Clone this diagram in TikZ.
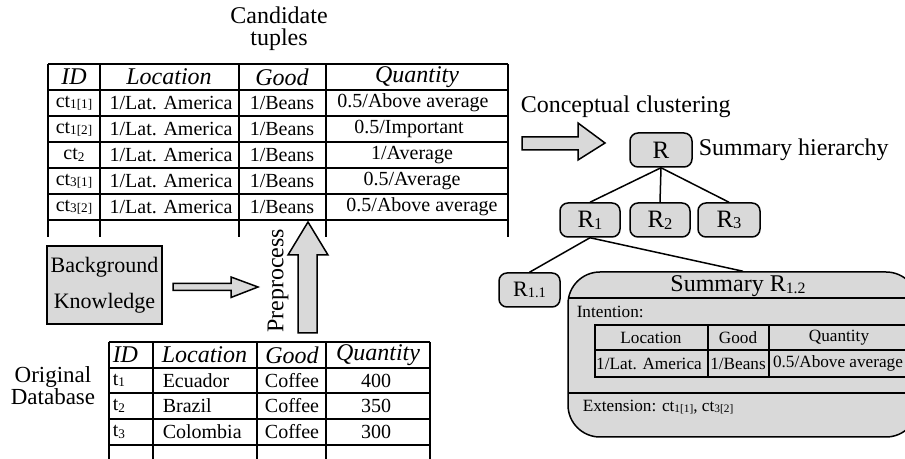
\documentclass[tikz,border=0pt]{standalone}
\usepackage{fontspec}
\setmainfont{Liberation Serif}
\usepackage{graphicx}
\usetikzlibrary{positioning}
\newcommand{\smtxt}[1]{\raisebox{-.15ex}{\scalebox{0.66}{#1}}}

\begin{document}
\begin{tikzpicture}[x=0.5pt,y=-0.5pt,line width=0.75pt,
  hd/.style={inner sep=0pt,font=\fontsize{12}{12}\selectfont\itshape},
  cell/.style={inner sep=0pt,font=\fontsize{10}{12}\selectfont},
  small/.style={inner sep=0pt,font=\fontsize{8.6}{10}\selectfont},
  lbl/.style={inner sep=0pt,align=center,font=\fontsize{12}{11}\selectfont},
  rnode/.style={draw,fill=gray!30,rounded corners=4pt,minimum height=17pt,inner sep=0pt,font=\fontsize{12.5}{12}\selectfont},
  blockarrow/.style={draw,fill=gray!30,line join=miter}]
\useasboundingbox (0,0) rectangle (905,459);

% candidate tuples
\node[lbl] (cand) at (279,29) {Candidate\\tuples};
\foreach \y in {64,90,...,220} \draw (48,\y) -- (508,\y);
\foreach \x in {48,100,239,326,508} \draw (\x,64) -- (\x,237);
\node[hd] (cid) at (74,77) {ID};
\node[hd] (cloc) at (169,77) {Location};
\node[hd] (cgood) at (282,77) {Good};
\node[hd] (cqty) at (417,77) {Quantity};
\node[cell] (ct11) at (74,103) {ct\smtxt{1[1]}};
\node[cell] (ct12) at (74,129) {ct\smtxt{1[2]}};
\node[cell] (ct2) at (74,155) {ct\smtxt{2}};
\node[cell] (ct31) at (74,181) {ct\smtxt{3[1]}};
\node[cell] (ct32) at (74,207) {ct\smtxt{3[2]}};
\foreach \y [count=\i] in {103,129,155,181,207} {
  \node[cell] (cl\i) at (171,\y) {1/Lat. America};
  \node[cell] (cg\i) at (282,\y) {1/Beans};
}
\node[cell] (cq1) at (413,103) {0.5/Above average};
\node[cell] (cq2) at (409,129) {0.5/Important};
\node[cell] (cq3) at (412,155) {1/Average};
\node[cell] (cq4) at (412,181) {0.5/Average};
\node[cell] (cq5) at (422,207) {0.5/Above average};

% original database
\node[lbl,font=\fontsize{11.5}{11}\selectfont] (orig) at (53,386) {Original\\Database};
\foreach \y in {342,368,393,419,445} \draw (109,\y) -- (430,\y);
\foreach \x in {109,153,257,326,430} \draw (\x,342) -- (\x,459);
\node[hd,anchor=west] (oid) at (112,355) {ID};
\node[hd,anchor=west] (oloc) at (161,355) {Location};
\node[hd] (ogood) at (292,355) {Good};
\node[hd] (oqty) at (378,355) {Quantity};
\node[cell,anchor=west] (t1) at (112,380.5) {t\smtxt{1}};
\node[cell,anchor=west] (t2) at (112,406) {t\smtxt{2}};
\node[cell,anchor=west] (t3) at (112,432) {t\smtxt{3}};
\node[cell,anchor=west] (l1) at (162,380.5) {Ecuador};
\node[cell,anchor=west] (l2) at (162,406) {Brazil};
\node[cell,anchor=west] (l3) at (162,432) {Colombia};
\foreach \y [count=\i] in {380.5,406,432} \node[cell] (g\i) at (292,\y) {Coffee};
\node[cell] (q1) at (376,380.5) {400};
\node[cell] (q2) at (376,406) {350};
\node[cell] (q3) at (376,432) {300};

% background knowledge and preprocessing
\node[draw,fill=gray!30,minimum width=57.5pt,minimum height=39pt,inner sep=0pt,align=center,
  font=\fontsize{11}{18}\selectfont] (bk) at (104.5,285) {Background\\Knowledge};
\draw[blockarrow] (173,283.5) -- (231,283.5) -- (231,277) -- (258,287) -- (231,297.5)
  -- (231,290.5) -- (173,290.5) -- cycle;
\draw[blockarrow] (298,333) -- (298,255) -- (288,255) -- (308,222) -- (328,255)
  -- (317,255) -- (317,333) -- cycle;
\node[lbl,rotate=90] (prep) at (278,281) {Preprocess};

% conceptual clustering
\node[lbl,anchor=west] (cc) at (520,107) {Conceptual clustering};
\draw[blockarrow] (522,137) -- (578,137) -- (578,123) -- (605,143) -- (578,160)
  -- (578,150) -- (522,150) -- cycle;

% summary hierarchy
\node[rnode,minimum width=31pt] (R) at (661,150) {R};
\node[lbl,anchor=west] (sh) at (698,150) {Summary hierarchy};
\node[rnode,minimum width=30pt] (R1) at (590,220) {R\smtxt{1}};
\node[rnode,minimum width=30pt] (R2) at (660,220) {R\smtxt{2}};
\node[rnode,minimum width=31pt] (R3) at (729,220) {R\smtxt{3}};
\node[rnode,minimum width=30.5pt,font=\fontsize{11}{12}\selectfont] (R11) at (529.5,290) {R\smtxt{1.1}};
\node[draw,fill=gray!30,rounded corners=16pt,minimum width=175pt,minimum height=82.5pt] (R12) at (743,354.5) {};
\draw (R.south) -- (R1.north);
\draw (R.south) -- (R2.north);
\draw (R.south) -- (R3.north);
\draw (R1.south) -- (R11.north);
\draw (R1.south) -- (R12.north);

% summary R1.2 contents
\begin{scope}
\clip[rounded corners=16pt] (R12.south west) rectangle (R12.north east);
\draw (568,298) -- (918,298);
\draw (568,393) -- (918,393);
\end{scope}
\node[inner sep=0pt,font=\fontsize{12}{12}\selectfont] (st) at (738,286) {Summary R\smtxt{1.2}};
\node[small,anchor=west] (int) at (576,312) {Intention:};
\draw (595,325) rectangle (910,377);
\draw (595,350) -- (910,350);
\draw (708,325) -- (708,377);
\draw (769,325) -- (769,377);
\node[small] (sl) at (651,337.5) {Location};
\node[small] (sg) at (738,337.5) {Good};
\node[small] (sq) at (839,337.5) {Quantity};
\node[small] (sl1) at (649,363.5) {1/Lat. America};
\node[small] (sg1) at (738,363.5) {1/Beans};
\node[small] (sq1) at (838,363.5) {0.5/Above average};
\node[small,anchor=west] (ext) at (582,407) {Extension: ct\smtxt{1[1]}, ct\smtxt{3[2]}};
\end{tikzpicture}
\end{document}
